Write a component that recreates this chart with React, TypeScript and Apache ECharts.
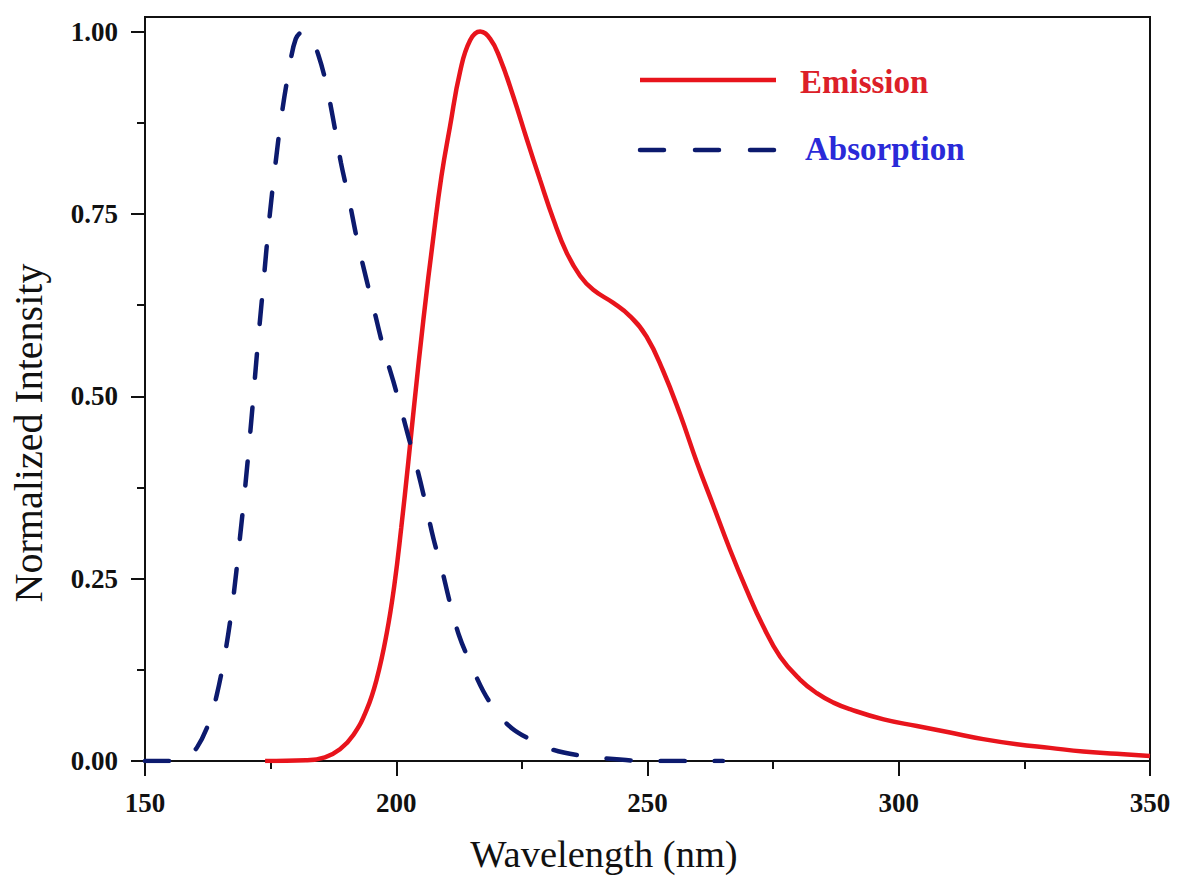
import React, { useEffect, useRef } from "react";
import * as echarts from "echarts";

// Absorption spectrum (wavelength nm, normalized intensity)
const absWavelength = [150, 154.6, 157, 158.5, 160.3, 162.7, 164.3, 166.0, 167.5, 168.8, 170.0, 171.2, 172.3, 173.5, 174.7, 175.9, 177.2, 178.6, 180.0, 181.5, 183.0, 184.5, 186.0, 187.5, 189.0, 190.6, 192.2, 194.0, 195.7, 197.5, 199.4, 200.9, 202.4, 204.0, 205.6, 207.4, 209.0, 210.5, 212.5, 214.7, 217.3, 220.3, 223.0, 226.0, 230.9, 236.2, 244.5, 250, 265];
const absIntensity = [0, 0, 0.003, 0.008, 0.018, 0.052, 0.091, 0.15, 0.22, 0.3, 0.38, 0.47, 0.56, 0.65, 0.74, 0.815, 0.886, 0.945, 0.99, 1.0, 0.992, 0.968, 0.93, 0.878, 0.82, 0.77, 0.715, 0.662, 0.615, 0.565, 0.521, 0.484, 0.445, 0.405, 0.36, 0.305, 0.265, 0.222, 0.172, 0.135, 0.096, 0.064, 0.045, 0.032, 0.016, 0.008, 0.002, 0, 0];

// Emission spectrum
const emWavelength = [173.9, 182, 185.8, 188.8, 191.5, 194.1, 196.1, 198.1, 199.6, 201.0, 202.4, 203.6, 205.4, 207.4, 209.0, 210.7, 212.7, 214.7, 216.7, 218.7, 220.6, 223.3, 226.0, 228.6, 231.3, 233.9, 236.6, 239.2, 243.2, 246.5, 249.8, 253.1, 256.5, 259.8, 263.1, 266.4, 269.7, 273.0, 276.4, 280.3, 283.7, 287.0, 290.3, 297.0, 303.6, 310.2, 316.8, 323.5, 330.1, 336.7, 343.4, 350];
const emIntensity = [0, 0.001, 0.005, 0.016, 0.036, 0.07, 0.112, 0.175, 0.24, 0.32, 0.41, 0.49, 0.605, 0.719, 0.802, 0.87, 0.945, 0.988, 1.0, 0.99, 0.964, 0.911, 0.852, 0.797, 0.742, 0.697, 0.665, 0.646, 0.628, 0.61, 0.582, 0.535, 0.475, 0.41, 0.35, 0.29, 0.235, 0.185, 0.143, 0.112, 0.093, 0.08, 0.071, 0.057, 0.048, 0.039, 0.03, 0.023, 0.018, 0.013, 0.01, 0.007];

const yMajorTicks = [0, 0.25, 0.5, 0.75, 1.0];
const yMinorTicks = [0.125, 0.375, 0.625, 0.875];
const xTitle = "Wavelength (nm)";
const yTitle = "Normalized Intensity";
const seriesNames = ["Emission", "Absorption"];

const SERIF = "'Liberation Serif', 'Times New Roman', serif";
const RED = "#e8141c";
const NAVY = "#0c1a6e";

export default function App() {
  const ref = useRef<HTMLDivElement>(null);
  useEffect(() => {
    if (!ref.current) return;
    const chart = echarts.init(ref.current, null, { renderer: "svg" });
    const absData = absWavelength.map((w, i) => [w, absIntensity[i]]);
    const emData = emWavelength.map((w, i) => [w, emIntensity[i]]);
    const labelStyle = {
      fontFamily: SERIF,
      fontSize: 27,
      fontWeight: "bold" as const,
      color: "#111",
    };
    chart.setOption({
      animation: false,
      backgroundColor: "#fff",
      grid: {
        left: 145,
        right: 29,
        top: 17,
        bottom: 117,
        show: true,
        borderColor: "#111",
        borderWidth: 2,
      },
      xAxis: {
        type: "value",
        min: 150,
        max: 350,
        interval: 50,
        axisLine: { show: true, onZero: false, lineStyle: { color: "#111", width: 2 } },
        axisTick: { show: true, length: 15, lineStyle: { color: "#111", width: 2 } },
        minorTick: { show: true, splitNumber: 2, length: 8, lineStyle: { color: "#111", width: 2 } },
        axisLabel: { ...labelStyle, margin: 28 },
        splitLine: { show: false },
        minorSplitLine: { show: false },
      },
      yAxis: [
        {
          type: "value",
          min: 0,
          max: 1.02,
          interval: 0.25,
          position: "left",
          axisLine: { show: true, lineStyle: { color: "#111", width: 2 } },
          axisTick: { show: true, customValues: yMajorTicks, length: 14, lineStyle: { color: "#111", width: 2 } },
          axisLabel: {
            ...labelStyle,
            margin: 27,
            customValues: yMajorTicks,
            formatter: (v: number) => v.toFixed(2),
          },
          splitLine: { show: false },
        },
        {
          type: "value",
          min: 0,
          max: 1.02,
          interval: 0.25,
          position: "left",
          offset: 0,
          axisLine: { show: false },
          axisTick: { show: true, customValues: yMinorTicks, length: 8, lineStyle: { color: "#111", width: 2 } },
          axisLabel: { show: false },
          splitLine: { show: false },
        },
      ],
      series: [
        {
          name: seriesNames[0],
          type: "line",
          data: emData,
          showSymbol: false,
          smooth: 0.45,
          clip: true,
          lineStyle: { color: RED, width: 4.5 },
          z: 3,
        },
        {
          name: seriesNames[1],
          type: "line",
          data: absData,
          showSymbol: false,
          smooth: 0.35,
          clip: true,
          lineStyle: { color: NAVY, width: 4.5, type: [24, 30], cap: "round" },
          z: 4,
        },
      ],
      graphic: [
        {
          type: "line",
          shape: { x1: 640, y1: 80, x2: 776, y2: 80 },
          style: { stroke: RED, lineWidth: 4.5 },
        },
        {
          type: "text",
          x: 800,
          y: 82,
          style: {
            text: seriesNames[0],
            fill: "#dc2028",
            font: `bold 33px ${SERIF}`,
            verticalAlign: "middle",
            align: "left",
          },
        },
        {
          type: "line",
          shape: { x1: 640, y1: 150, x2: 776, y2: 150 },
          style: { stroke: NAVY, lineWidth: 4.5, lineDash: [24, 31], lineCap: "round" },
        },
        {
          type: "text",
          x: 805,
          y: 149,
          style: {
            text: seriesNames[1],
            fill: "#2a2ad8",
            font: `bold 33px ${SERIF}`,
            verticalAlign: "middle",
            align: "left",
          },
        },
        {
          type: "text",
          x: 604,
          y: 854,
          style: {
            text: xTitle,
            fill: "#111",
            font: `38.5px ${SERIF}`,
            verticalAlign: "middle",
            align: "center",
          },
        },
        {
          type: "text",
          x: 28,
          y: 433,
          rotation: Math.PI / 2,
          style: {
            text: yTitle,
            fill: "#111",
            font: `40px ${SERIF}`,
            verticalAlign: "middle",
            align: "center",
          },
        },
      ],
    });
    return () => chart.dispose();
  }, []);
  return (
    <div
      ref={ref}
      style={{ position: "fixed", left: 0, top: 0, width: 1179, height: 878, background: "#fff" }}
    />
  );
}
